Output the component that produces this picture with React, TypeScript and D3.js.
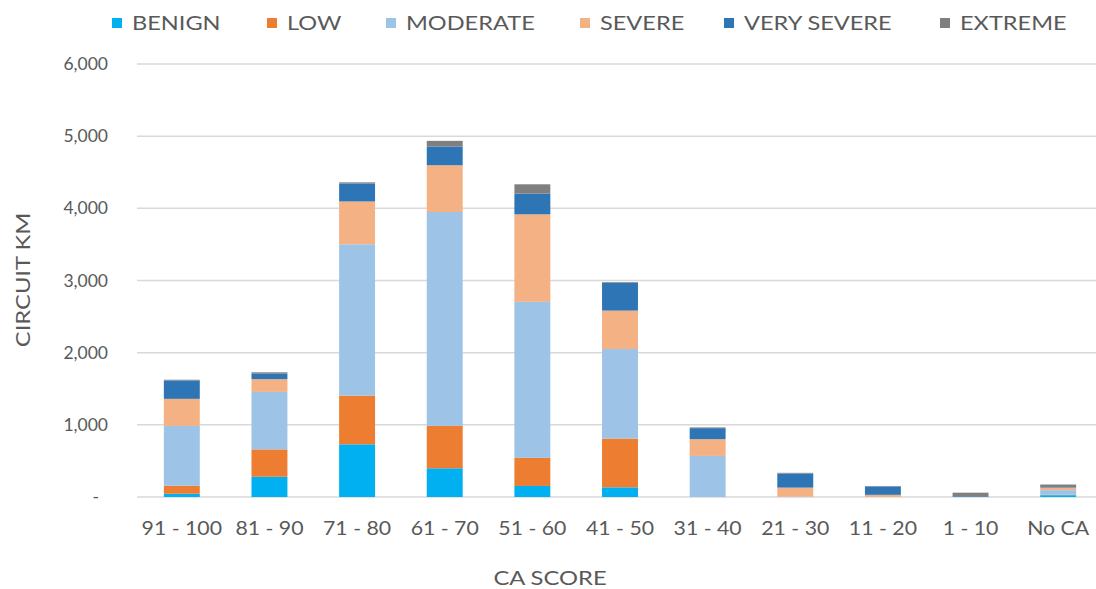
import React from "react";
import * as d3 from "d3";

const categories = ["91 - 100", "81 - 90", "71 - 80", "61 - 70", "51 - 60", "41 - 50", "31 - 40", "21 - 30", "11 - 20", "1 - 10", "No CA"];
const benign = [45, 280, 730, 398, 153, 134, 0, 0, 0, 0, 25];
const low = [110, 380, 675, 588, 389, 676, 0, 0, 0, 0, 5];
const moderate = [830, 796, 2097, 2963, 2162, 1241, 569, 5, 0, 0, 65];
const severe = [375, 177, 593, 648, 1213, 532, 232, 125, 30, 0, 35];
const verySevere = [255, 80, 250, 260, 287, 385, 153, 195, 115, 10, 8];
const extreme = [10, 15, 15, 78, 129, 10, 10, 10, 8, 50, 35];
const yTicks = [0, 1000, 2000, 3000, 4000, 5000, 6000];

const seriesNames = ["BENIGN", "LOW", "MODERATE", "SEVERE", "VERY SEVERE", "EXTREME"];
const seriesValues = [benign, low, moderate, severe, verySevere, extreme];
const colors = ["#00B0F0", "#ED7D31", "#9DC3E6", "#F4B183", "#2E75B6", "#7F7F7F"];

const W = 1096;
const H = 589;
const FONT = "Lato, 'Open Sans', sans-serif";
const TEXT = "#595959";

// Text drawn with a horizontal stretch, anchored at (x, y).
function Label(props: {
  x: number;
  y: number;
  sx: number;
  size: number;
  anchor?: string;
  rotate?: number;
  children: React.ReactNode;
}) {
  const { x, y, sx, size, anchor = "start", rotate = 0, children } = props;
  return (
    <g transform={`translate(${x},${y}) rotate(${rotate}) scale(${sx},1)`}>
      <text x={0} y={0} dy="0.35em" textAnchor={anchor} fontSize={size} fill={TEXT}>
        {children}
      </text>
    </g>
  );
}

export default function App() {
  const rows = categories.map((c, i) => {
    const r: Record<string, any> = { cat: c };
    seriesNames.forEach((s, k) => (r[s] = seriesValues[k][i]));
    return r;
  });
  const stacked = d3.stack().keys(seriesNames)(rows as any);

  const x = d3.scaleBand().domain(categories).range([138, 1102]).paddingInner(0.59).paddingOuter(0.295);
  const y = d3.scaleLinear().domain([0, 6000]).range([497, 64]);
  const fmt = (v: number) => (v === 0 ? "-" : d3.format(",")(v));

  const legendX = [112, 267, 386, 580, 724, 940];

  return (
    <svg width={W} height={H} style={{ position: "absolute", left: 0, top: 0, background: "#fff" }} fontFamily={FONT}>
      {/* gridlines */}
      {yTicks.map((t) => (
        <line key={t} x1={137} x2={W} y1={y(t)} y2={y(t)} stroke="#D9D9D9" strokeWidth={1.5} />
      ))}
      {/* y tick labels */}
      {yTicks.map((t) => (
        <Label key={"l" + t} x={t === 0 ? 99 : 108} y={y(t)} sx={1} size={17.5} anchor="end">
          {fmt(t)}
        </Label>
      ))}
      {/* stacked bars */}
      {stacked.map((layer, k) => (
        <g key={layer.key} fill={colors[k]}>
          {layer.map((d: any, i: number) => (
            <rect
              key={i}
              x={x(categories[i])}
              width={x.bandwidth()}
              y={y(d[1])}
              height={Math.max(0, y(d[0]) - y(d[1]))}
            />
          ))}
        </g>
      ))}
      {/* x tick labels */}
      {categories.map((c) => (
        <Label key={c} x={(x(c) as number) + x.bandwidth() / 2} y={529} sx={1.15} size={18.5} anchor="middle">
          {c}
        </Label>
      ))}
      {/* axis titles */}
      <Label x={550} y={578} sx={1.25} size={19} anchor="middle">
        CA SCORE
      </Label>
      <Label x={23} y={280} rotate={-90} sx={1.25} size={19} anchor="middle">
        CIRCUIT KM
      </Label>
      {/* legend */}
      {seriesNames.map((s, k) => (
        <g key={s} transform={`translate(${legendX[k]},23)`}>
          <rect x={0} y={-5} width={10} height={10} fill={colors[k]} />
          <Label x={20} y={0} sx={1.24} size={19}>
            {s}
          </Label>
        </g>
      ))}
    </svg>
  );
}
